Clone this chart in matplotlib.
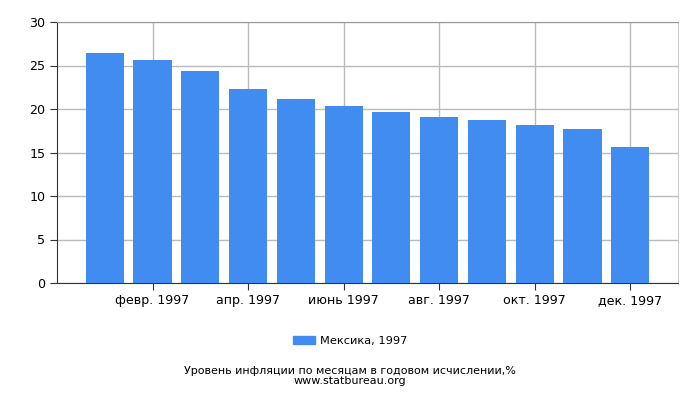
import numpy as np
import matplotlib
matplotlib.use('Agg')
import matplotlib.pyplot as plt
from matplotlib.patches import Patch

# Data
months = np.arange(1, 13)
values = [26.47, 25.67, 24.40, 22.33, 21.18, 20.38, 19.69, 19.10, 18.77, 18.20, 17.74, 15.67]
tick_pos = [2, 4, 6, 8, 10, 12]
tick_labels = ['февр. 1997', 'апр. 1997', 'июнь 1997', 'авг. 1997', 'окт. 1997', 'дек. 1997']
series_name = 'Мексика, 1997'
caption = 'Уровень инфляции по месяцам в годовом исчислении,%\nwww.statbureau.org'

bar_color = '#418cf0'
grid_color = '#bbbbbb'

fig = plt.figure(figsize=(7, 4), dpi=100)
ax = fig.add_axes([57/700, 1 - 283/400, 621/700, 261/400])

ax.bar(months, values, width=0.8, color=bar_color, zorder=3)

ax.set_xlim(0, 13.0)
ax.set_ylim(0, 30)
ax.set_yticks([0, 5, 10, 15, 20, 25, 30])
ax.set_xticks(tick_pos)
ax.set_xticklabels(tick_labels)
ax.tick_params(axis='both', labelsize=9.1, direction='out', length=5, color='#333333')
ax.tick_params(axis='x', pad=3)

ax.grid(True, color=grid_color, linewidth=1, zorder=0)
ax.spines['left'].set_color('#333333')
ax.spines['bottom'].set_color('#333333')
ax.spines['top'].set_color('#999999')
ax.spines['right'].set_color('#cccccc')

fig.legend(handles=[Patch(color=bar_color, label=series_name)],
           loc='center', bbox_to_anchor=(0.5, 1 - 341/400), frameon=False,
           fontsize=8.2, handlelength=2.0, handleheight=0.75, handletextpad=0.4)

fig.text(0.5, 1 - 376/400, caption, ha='center', va='center', fontsize=8, linespacing=0.95)

fig.savefig('out.png', dpi=100)
